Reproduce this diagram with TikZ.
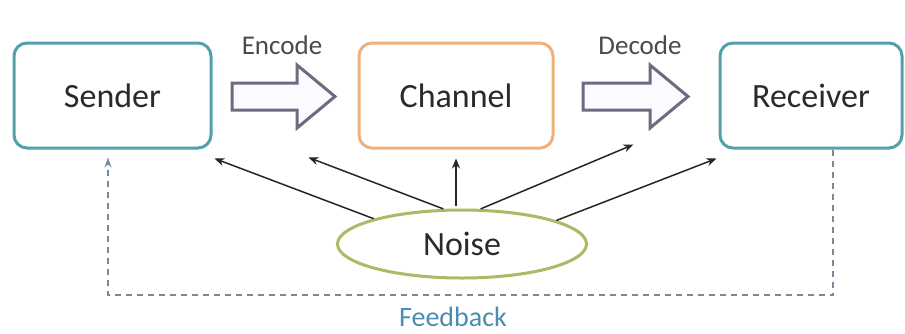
\documentclass[tikz,border=0pt]{standalone}
\usepackage{fontspec}
\setmainfont{Carlito}
\usetikzlibrary{arrows.meta,shapes.geometric}
\definecolor{tealc}{HTML}{53A0AB}
\definecolor{orangec}{HTML}{EFB07C}
\definecolor{greenc}{HTML}{A8BC68}
\definecolor{arrowc}{HTML}{6E6B80}
\definecolor{arrowfill}{HTML}{FCFAFF}
\definecolor{dashc}{HTML}{7D8898}
\definecolor{fbtext}{HTML}{4B8DAF}
\definecolor{txt}{HTML}{2A2A2A}
\tikzset{
  box/.style={draw, line width=3pt, rounded corners=13pt, inner sep=0pt, text=txt, font=\fontsize{34}{40}\selectfont},
  noiseshape/.style={ellipse, draw=greenc, line width=3pt, minimum width=249pt, minimum height=68pt, inner sep=0pt, text=txt, font=\fontsize{34}{40}\selectfont},
  blockarrow/.style={draw=arrowc, fill=arrowfill, line width=3pt, line join=miter},
  lbl/.style={text=txt!85, font=\fontsize{27}{32}\selectfont},
  noisearrow/.style={draw=black!85, line width=1.5pt, -{Stealth[length=10pt,width=8pt]}},
  fb/.style={draw=dashc, line width=1.6pt, dash pattern=on 6pt off 5pt, -{Stealth[length=10pt,width=7pt]}}
}
\begin{document}
\begin{tikzpicture}[x=1pt,y=-1pt]
\useasboundingbox (0,0) rectangle (905,333);
\fill[white] (0,0) rectangle (905,333);
\node[box, draw=tealc, minimum width=197pt, minimum height=105pt] (sender) at (112.5,95.5) {Sender};
\node[box, draw=orangec, minimum width=194pt, minimum height=105pt] (channel) at (456,95.5) {Channel};
\node[box, draw=tealc, minimum width=182pt, minimum height=105pt] (receiver) at (811,95.5) {Receiver};
\node[noiseshape] (noise) at (462,244) {Noise};
% block arrows
\draw[blockarrow] (232,83) -- (297,83) -- (297,65) -- (335,96.5) -- (297,128) -- (297,110) -- (232,110) -- cycle;
\draw[blockarrow] (583,83) -- (650,83) -- (650,65) -- (688,96.5) -- (650,128) -- (650,110) -- (583,110) -- cycle;
\node[lbl] (enc) at (282,45) {Encode};
\node[lbl] (dec) at (640,45) {Decode};
% noise arrows
\draw[noisearrow] (noise.164) -- ([shift={(2pt,-9pt)}]sender.south east);
\draw[noisearrow] (noise.118) -- ([shift={(-49pt,-8pt)}]channel.south west);
\draw[noisearrow] ([yshift=3pt]noise.north -| channel.south) -- ([yshift=-9pt]channel.south);
\draw[noisearrow] (noise.62) -- ([shift={(-85pt,5pt)}]receiver.south west);
\draw[noisearrow] (noise.14) -- ([shift={(-2pt,-9pt)}]receiver.south west);
% feedback
\coordinate (fbr) at (833,295);
\coordinate (fbl) at (108,295);
\draw[fb] (receiver.south -| fbr) -- (fbr) -- (fbl) -- ([yshift=-8pt]sender.south -| fbl);
\node[text=fbtext, font=\fontsize{28}{32}\selectfont] (fbtxt) at (453,317) {Feedback};
\end{tikzpicture}
\end{document}
